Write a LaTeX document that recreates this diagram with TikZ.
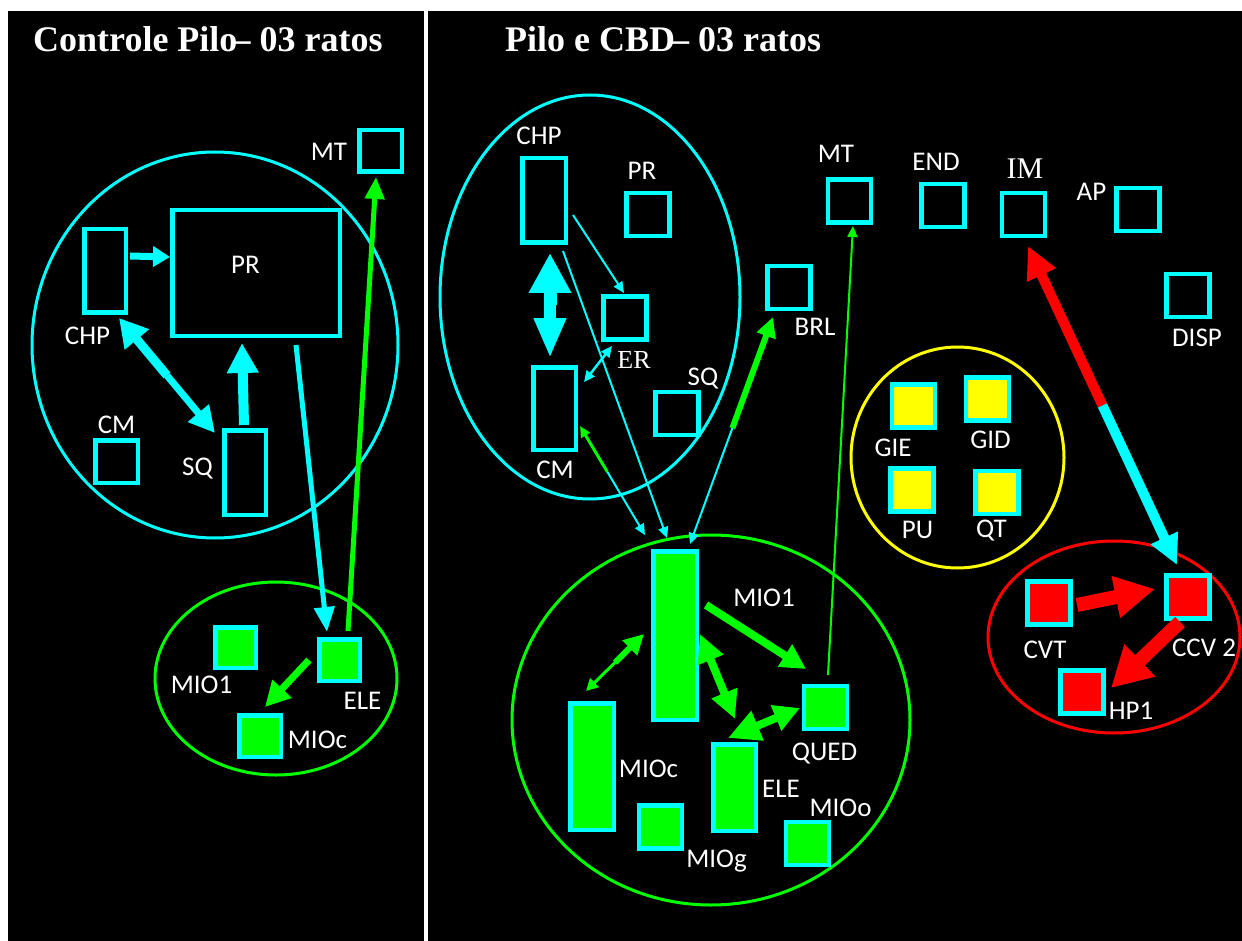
\documentclass[tikz,border=0pt]{standalone}
\usepackage{fontspec}
\setmainfont{Liberation Serif}
\newfontfamily\lab{Carlito}
\usetikzlibrary{arrows.meta,calc}
\definecolor{cy}{HTML}{00FFFF}
\definecolor{gr}{HTML}{00FF00}
\definecolor{ye}{HTML}{FFFF00}
\definecolor{rd}{HTML}{FF0000}
\begin{document}
\begin{tikzpicture}[x=1pt,y=-1pt,
 bx/.style={draw=cy,line width=4.5pt,inner sep=0pt},
 gbx/.style={bx,fill=gr}, ybx/.style={bx,fill=ye}, rbx/.style={bx,fill=rd},
 sq/.style={minimum width=43pt,minimum height=43pt},
 lbl/.style={text=white,font=\lab\fontsize{27}{30}\selectfont,inner sep=0pt,anchor=base},
 slbl/.style={text=white,inner sep=0pt,anchor=base},
 ttl/.style={text=white,font=\bfseries\fontsize{36}{40}\selectfont,inner sep=0pt,anchor=base west},
 ring/.style={line width=3pt},
 tipd/.style 2 args={-{Triangle[length=#1pt,width=#2pt]}},
]
\useasboundingbox (0,0) rectangle (1242,941);
\fill[white] (0,0) rectangle (1242,941);
\fill[black] (8,11) rectangle (1242,941);
\fill[white] (424,11) rectangle (428,941);

% titles
\node[ttl] (t1) at (33,52) {Controle Pilo\kern-5pt– 03 ratos};
\node[ttl] (t2) at (505,52) {Pilo e CBD\kern-4pt– 03 ratos};

% ---------- group outlines ----------
\draw[cy,ring] (215,345) ellipse [x radius=183pt, y radius=193pt];
\draw[gr,ring] (276,678.5) ellipse [x radius=121pt, y radius=96.5pt];
\draw[cy,ring] (590,297) ellipse [x radius=150pt, y radius=202pt];
\draw[ye,ring] (957.5,457.5) ellipse [x radius=106.5pt, y radius=110.5pt];
\draw[rd,ring] (1114,637) ellipse [x radius=126pt, y radius=96pt];
\draw[gr,ring] (711,720) ellipse [x radius=199pt, y radius=185pt];

% ---------- left panel boxes ----------
\node[bx,minimum width=42.5pt,minimum height=41.5pt] (lMT) at (380.5,151) {};
\node[bx,minimum width=167.5pt,minimum height=125.5pt] (lPR) at (256,273) {};
\node[bx,minimum width=41.5pt,minimum height=83.5pt] (lCHP) at (105,271) {};
\node[bx,minimum width=42.5pt,minimum height=42.5pt] (lCM) at (116.5,461.5) {};
\node[bx,minimum width=41.5pt,minimum height=84.5pt] (lSQ) at (245,472.5) {};
\node[gbx,minimum width=40.5pt,minimum height=40.5pt] (lMIO1) at (235.5,647.5) {};
\node[gbx,minimum width=40.5pt,minimum height=41.5pt] (lELE) at (339.5,660) {};
\node[gbx,minimum width=41.5pt,minimum height=41.5pt] (lMIOc) at (260,736) {};

\node[lbl] (lMTt) at (329,161) {MT};
\node[lbl] (lPRt) at (245.5,274) {PR};
\node[lbl] (lCHPt) at (87.5,344) {CHP};
\node[lbl] (lCMt) at (116.5,433) {CM};
\node[lbl] (lSQt) at (197.5,475) {SQ};
\node[lbl] (lMIO1t) at (201.5,693) {MIO1};
\node[lbl] (lELEt) at (362.5,709) {ELE};
\node[lbl] (lMIOct) at (317.5,748) {MIOc};

% ---------- right panel boxes ----------
\node[bx,minimum width=43.5pt,minimum height=84.5pt] (rCHP) at (544,200.5) {};
\node[bx,sq] (rPR) at (648,214.5) {};
\node[bx,sq] (rER) at (625,318) {};
\node[bx,sq] (rSQ) at (677,413.5) {};
\node[bx,minimum width=42.5pt,minimum height=82.5pt] (rCM) at (554.5,408.5) {};
\node[bx,sq] (rMT) at (849.5,201) {};
\node[bx,sq] (rEND) at (943,205.5) {};
\node[bx,sq] (rIM) at (1023.5,214.5) {};
\node[bx,sq] (rAP) at (1138,209.5) {};
\node[bx,sq] (rDISP) at (1188,295.5) {};
\node[bx,sq] (rBRL) at (789,287.5) {};
\node[ybx,sq] (GIE) at (913.5,406) {};
\node[ybx,sq] (GID) at (987.5,399) {};
\node[ybx,sq] (PU) at (912,490) {};
\node[ybx,sq] (QT) at (997,492.5) {};
\node[rbx,sq] (CVT) at (1049,603) {};
\node[rbx,sq] (CCV) at (1188,597) {};
\node[rbx,sq] (HP) at (1082,692) {};
\node[gbx,minimum width=43.5pt,minimum height=168.5pt] (rMIO1) at (675,635.5) {};
\node[gbx,minimum width=43.5pt,minimum height=126.5pt] (rMIOc) at (592,766.5) {};
\node[gbx,sq] (rMIOg) at (660.5,827) {};
\node[gbx,minimum width=42.5pt,minimum height=86.5pt] (rELE) at (734.5,787.5) {};
\node[gbx,sq] (QUED) at (825.5,707.5) {};
\node[gbx,sq] (MIOo) at (807.5,843.5) {};

\node[lbl] (rCHPt) at (539,145) {CHP};
\node[lbl] (rPRt) at (642,180) {PR};
\node[slbl,font=\fontsize{26}{28}\selectfont] (rERt) at (634,368) {ER};
\node[lbl] (rSQt) at (703,385) {SQ};
\node[lbl] (rCMt) at (555,478) {CM};
\node[lbl] (rMTt) at (836,163) {MT};
\node[lbl] (rENDt) at (936,171) {END};
\node[slbl,font=\fontsize{30}{32}\selectfont] (rIMt) at (1025,179) {IM};
\node[lbl] (rAPt) at (1091.5,201) {AP};
\node[lbl] (rBRLt) at (815,335) {BRL};
\node[lbl] (rDISPt) at (1197,346) {DISP};
\node[lbl] (GIEt) at (893,456) {GIE};
\node[lbl] (GIDt) at (990.5,448) {GID};
\node[lbl] (PUt) at (917.5,538) {PU};
\node[lbl] (QTt) at (991.5,537) {QT};
\node[lbl] (CVTt) at (1045,658) {CVT};
\node[lbl] (CCVt) at (1204,656) {CCV 2};
\node[lbl] (HPt) at (1131,719) {HP1};
\node[lbl] (rMIO1t) at (764,606) {MIO1};
\node[lbl] (rMIOct) at (648.5,777) {MIOc};
\node[lbl] (rMIOgt) at (716.5,867) {MIOg};
\node[lbl] (rELEt) at (781,797) {ELE};
\node[lbl] (QUEDt) at (824.5,760) {QUED};
\node[lbl] (MIOot) at (840.5,816) {MIOo};

% ---------- left panel connectors ----------
\draw[cy,line width=7pt,tipd={17}{20}] ($(lCHP)+(25,-15)$) -- ($(lPR)+(-86,-16)$);
\coordinate (a1) at ($(lCHP)+(14,47)$);
\coordinate (a2) at ($(lSQ)+(-30,-39.5)$);
\draw[cy,line width=9pt,tipd={28}{30}] ($(a1)!.5!(a2)$) -- (a1);
\draw[cy,line width=7pt,tipd={26}{26}] ($(a1)!.5!(a2)$) -- (a2);
\draw[cy,line width=10pt,tipd={30}{30}] ($(lSQ)+(-1,-47.5)$) -- ($(lPR)+(-14,70)$);
\draw[cy,line width=5pt,tipd={25}{20}] ($(lPR)+(40,72)$) -- ($(lELE)+(-12.5,-28)$);
\draw[gr,line width=5pt,tipd={22}{19}] ($(lELE)+(8.5,-29)$) -- ($(lMT)+(-4.5,26)$);
\draw[gr,line width=7pt,tipd={25}{25}] ($(lELE)+(-30.5,0)$) -- ($(lMIOc)+(5,-29)$);

% ---------- right panel connectors ----------
\coordinate (b1) at ($(rCHP)+(6,52.5)$);
\coordinate (b2) at ($(rCM)+(-4.5,-50.5)$);
\draw[cy,line width=13pt,tipd={40}{40}] ($(b1)!.5!(b2)$) -- (b1);
\draw[cy,line width=12pt,tipd={40}{30}] ($(b1)!.5!(b2)$) -- (b2);
\draw[cy,line width=2pt,tipd={11}{10}] ($(rCHP)+(29,14.5)$) -- ($(rER)+(-1,-25)$);
\coordinate (c1) at ($(rER)+(-13,28)$);
\coordinate (c2) at ($(rCM)+(29.5,-26.5)$);
\draw[cy,line width=2.5pt,tipd={11}{10}] ($(c1)!.5!(c2)$) -- (c1);
\draw[cy,line width=2.5pt,tipd={11}{10}] ($(c1)!.5!(c2)$) -- (c2);
\draw[cy,line width=2pt,tipd={11}{10}] ($(rCHP)+(19,50.5)$) -- ($(rMIO1)+(-8,-97.5)$);
\coordinate (d1) at ($(rCM)+(25.5,17.5)$);
\coordinate (d2) at ($(rMIO1)+(-30,-100.5)$);
\draw[gr,line width=3pt,tipd={11}{10}] ($(d1)!.42!(d2)$) -- (d1);
\draw[cy,line width=2pt,tipd={11}{10}] ($(d1)!.42!(d2)$) -- (d2);
\coordinate (e1) at ($(rBRL)+(-16,29.5)$);
\coordinate (e2) at ($(rMIO1)+(15,-91.5)$);
\draw[gr,line width=6pt,tipd={20}{19}] ($(e1)!.49!(e2)$) -- (e1);
\draw[cy,line width=2pt,tipd={11}{10}] ($(e1)!.49!(e2)$) -- (e2);
\draw[gr,line width=2pt,tipd={11}{10}] ($(QUED)+(2.5,-32.5)$) -- ($(rMT)+(3.5,25)$);
\coordinate (f1) at ($(rIM)+(4.5,31.5)$);
\coordinate (f2) at ($(CCV)+(-11,-32)$);
\draw[rd,line width=10pt,tipd={32}{30}] ($(f1)!.5!(f2)$) -- (f1);
\draw[cy,line width=10pt,tipd={30}{28}] ($(f1)!.5!(f2)$) -- (f2);
\draw[rd,line width=14pt,tipd={40}{40}] ($(CVT)+(28,2)$) -- ($(CCV)+(-33,-8)$);
\draw[rd,line width=14pt,tipd={40}{42}] ($(CCV)+(-8,25)$) -- ($(HP)+(29,-4)$);
\draw[gr,line width=8pt,tipd={25}{25}] ($(rMIO1)+(31,-30.5)$) -- ($(QUED)+(-19.5,-38.5)$);
\coordinate (g1) at ($(rMIOc)+(-6,-75.5)$);
\coordinate (g2) at ($(rMIO1)+(-31,-1.5)$);
\draw[gr,line width=3pt,tipd={12}{12}] ($(g1)!.5!(g2)$) -- (g1);
\draw[gr,line width=6pt,tipd={20}{20}] ($(g1)!.5!(g2)$) -- (g2);
\coordinate (h1) at ($(rMIO1)+(25,-1.5)$);
\coordinate (h2) at ($(rELE)+(0.5,-68.5)$);
\draw[gr,line width=8pt,tipd={28}{26}] ($(h1)!.5!(h2)$) -- (h1);
\draw[gr,line width=8pt,tipd={28}{26}] ($(h1)!.5!(h2)$) -- (h2);
\coordinate (k1) at ($(rELE)+(-6.5,-49.5)$);
\coordinate (k2) at ($(QUED)+(-25.5,0.5)$);
\draw[gr,line width=8pt,tipd={32}{30}] ($(k1)!.5!(k2)$) -- (k1);
\draw[gr,line width=8pt,tipd={26}{26}] ($(k1)!.5!(k2)$) -- (k2);
\end{tikzpicture}
\end{document}
